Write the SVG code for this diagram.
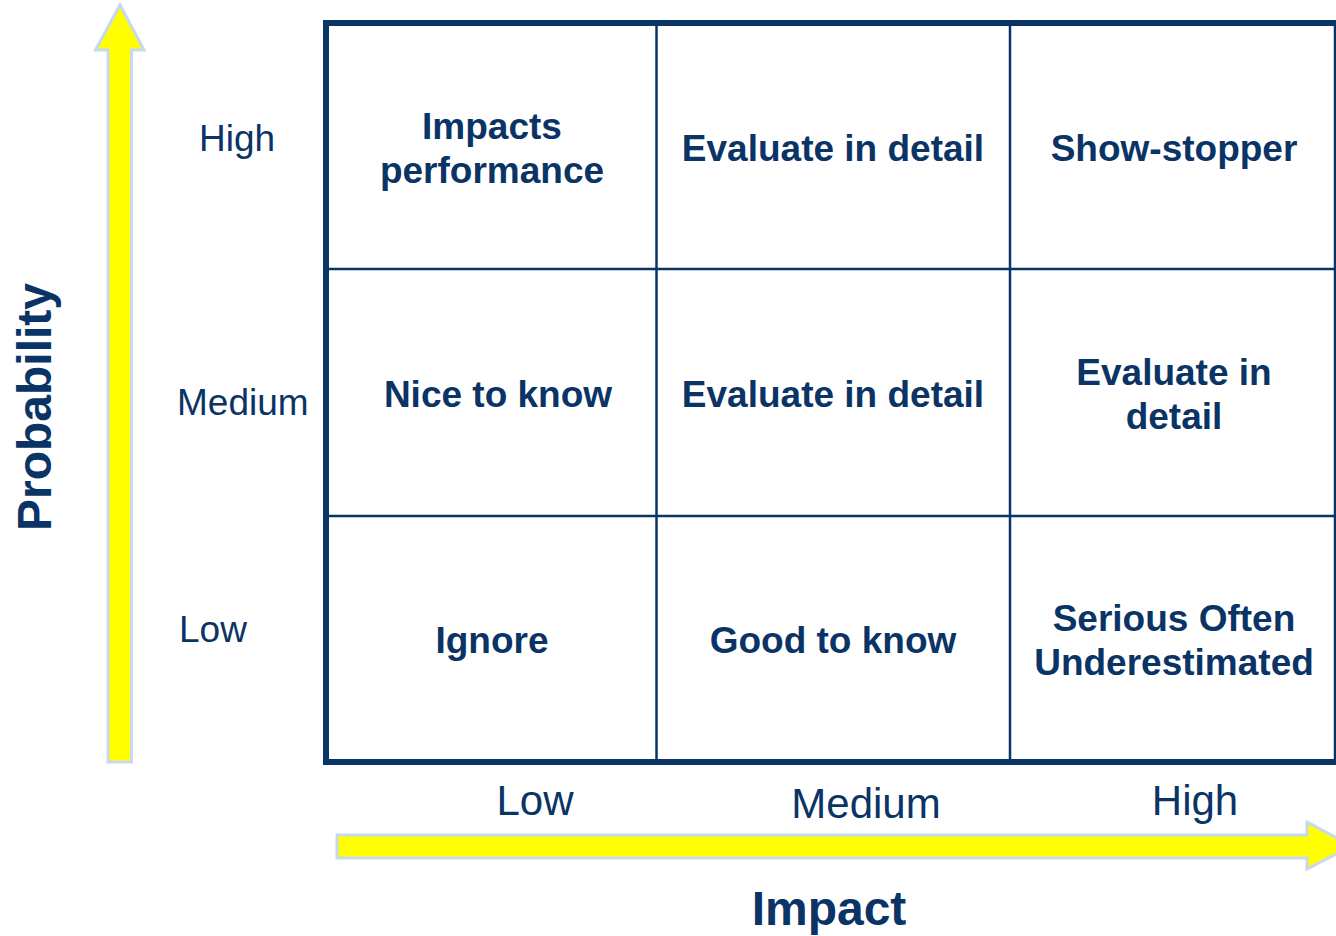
<svg xmlns="http://www.w3.org/2000/svg" width="1336" height="936" viewBox="0 0 1336 936">
<style>
.cell{font-family:"Liberation Sans",Arial,sans-serif;font-weight:bold;font-size:37px;fill:#0b3466;text-anchor:middle}
.lab{font-family:"Liberation Sans",Arial,sans-serif;font-size:37px;fill:#0b3466}
.blab{font-family:"Liberation Sans",Arial,sans-serif;font-size:42px;fill:#0b3466;text-anchor:middle}
.title{font-family:"Liberation Sans",Arial,sans-serif;font-weight:bold;font-size:48px;fill:#0b3466;text-anchor:middle}
.arrow{fill:#ffff00;stroke:#c6d9f1;stroke-width:3}
.thick{stroke:#0b3466;stroke-width:6;fill:none}
.thin{stroke:#0b3466;stroke-width:2.5;fill:none}
</style>
<rect width="1336" height="936" fill="#ffffff"/>
<g id="connectors">
<polygon id="prob-arrow" class="arrow" points="108,762 108,50 95.5,50 120,5 144,50 131.5,50 131.5,762"/>
<polygon id="impact-arrow" class="arrow" points="337,835 1307,835 1307,822 1352,846 1307,869 1307,858 337,858"/>
</g>
<g id="grid">
<line class="thin" x1="656.5" y1="23" x2="656.5" y2="762"/>
<line class="thin" x1="1010" y1="23" x2="1010" y2="762"/>
<line class="thin" x1="326" y1="269" x2="1336" y2="269"/>
<line class="thin" x1="326" y1="516" x2="1336" y2="516"/>
<line class="thin" x1="1335" y1="23" x2="1335" y2="762"/>
<line class="thick" x1="326" y1="23" x2="1336" y2="23"/>
<line class="thick" x1="326" y1="762" x2="1336" y2="762"/>
<line class="thick" x1="326" y1="20" x2="326" y2="765"/>
</g>
<g id="cell-high-low"><text class="cell" x="492" y="139">Impacts</text><text class="cell" x="492" y="183">performance</text></g>
<g id="cell-high-medium"><text class="cell" x="833" y="161">Evaluate in detail</text></g>
<g id="cell-high-high"><text class="cell" x="1174" y="161">Show-stopper</text></g>
<g id="cell-medium-low"><text class="cell" x="498" y="407">Nice to know</text></g>
<g id="cell-medium-medium"><text class="cell" x="833" y="407">Evaluate in detail</text></g>
<g id="cell-medium-high"><text class="cell" x="1174" y="385">Evaluate in</text><text class="cell" x="1174" y="429">detail</text></g>
<g id="cell-low-low"><text class="cell" x="492" y="653">Ignore</text></g>
<g id="cell-low-medium"><text class="cell" x="833" y="653">Good to know</text></g>
<g id="cell-low-high"><text class="cell" x="1174" y="631">Serious Often</text><text class="cell" x="1174" y="675">Underestimated</text></g>
<g id="prob-labels">
<text class="lab" x="199" y="151">High</text>
<text class="lab" x="177" y="415">Medium</text>
<text class="lab" x="179" y="642">Low</text>
</g>
<g id="impact-labels">
<text class="blab" x="535" y="815">Low</text>
<text class="blab" x="866" y="818">Medium</text>
<text class="blab" x="1195" y="815">High</text>
</g>
<g id="axis-titles">
<text class="title" x="829" y="925">Impact</text>
<text class="title" transform="translate(51,407) rotate(-90)">Probability</text>
</g>
</svg>
